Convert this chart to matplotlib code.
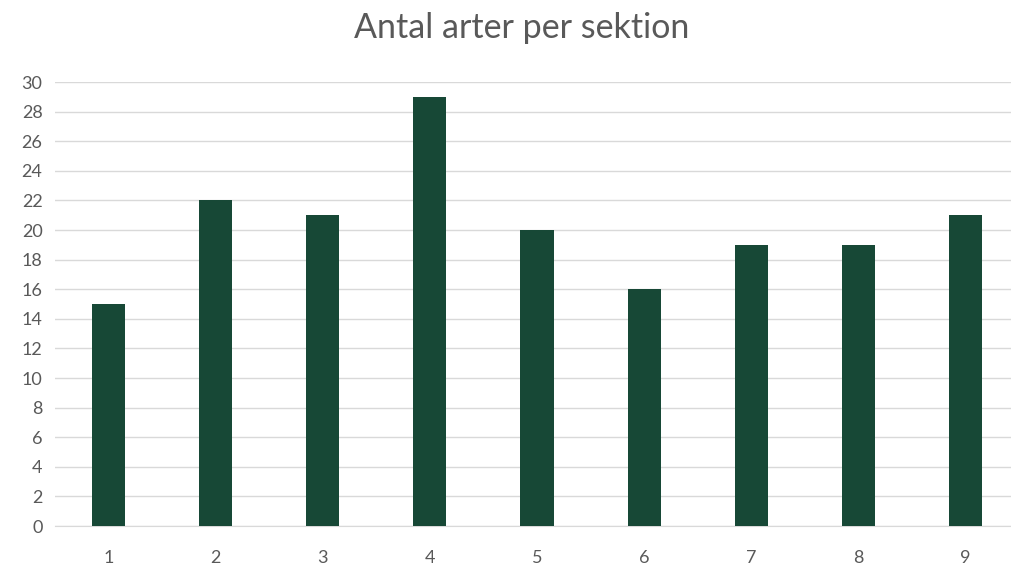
import matplotlib
matplotlib.use("Agg")
import matplotlib.pyplot as plt

sections = ["1", "2", "3", "4", "5", "6", "7", "8", "9"]
species_count = [15, 22, 21, 29, 20, 16, 19, 19, 21]
y_ticks = list(range(0, 31, 2))

plt.rcParams['font.family'] = ['Lato', 'DejaVu Sans']

fig = plt.figure(figsize=(10.11, 5.68), dpi=100)
ax = fig.add_axes([0.0544, 0.0739, 0.9535, 0.7817])

x = list(range(len(sections)))
ax.bar(x, species_count, width=0.31, color="#174836", zorder=3)

ax.set_xlim(-0.5, len(sections) - 0.5)
ax.set_ylim(0, 30)
ax.set_yticks(y_ticks)
ax.set_xticks(x)
ax.set_xticklabels(sections)
ax.grid(axis='y', color="#D9D9D9", linewidth=1, zorder=0)
for side in ("top", "right", "left"):
    ax.spines[side].set_visible(False)
ax.spines["bottom"].set_color("#D9D9D9")
ax.tick_params(axis='both', length=0, labelsize=13, labelcolor="#595959")
ax.tick_params(axis='x', pad=17)
ax.tick_params(axis='y', pad=9)

fig.text(0.516, 0.95, "Antal arter per sektion", ha='center', va='center',
         fontsize=24.5, color="#595959")

fig.savefig("out.png", dpi=100)
